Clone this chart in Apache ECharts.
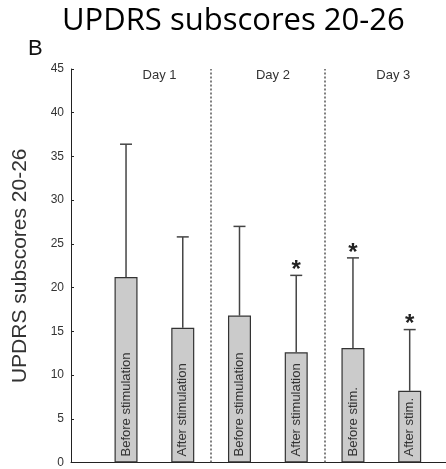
<!DOCTYPE html>
<html>
<head>
<meta charset="utf-8">
<script src="https://cdn.jsdelivr.net/npm/echarts@6/dist/echarts.min.js"></script>
<style>
  html, body { margin: 0; padding: 0; background: #fff; }
  #chart { width: 446px; height: 469px; }
</style>
</head>
<body>
<div id="chart"></div>
<script>
// UPDRS subscores 20-26, mean + SD per session
const sessions = ['Before stimulation', 'After stimulation', 'Before stimulation', 'After stimulation', 'Before stim.', 'After stim.'];
const slots = [1, 2, 3, 4, 5, 6];
const means = [21.2, 15.4, 16.8, 12.6, 13.1, 8.2];
const sds = [15.2, 10.4, 10.2, 8.8, 10.3, 7.0];
const significant = [false, false, false, true, true, true];
const days = ['Day 1', 'Day 2', 'Day 3'];
const dayCenters = [1.59, 3.59, 5.71];
const dayDividers = [2.5, 4.5];
const yTicks = { min: 0, max: 45, step: 5 };

const FONT = '"Liberation Sans", Arial, sans-serif';
const chart = echarts.init(document.getElementById('chart'));

const barData = slots.map((s, i) => [s, means[i]]);
const errData = slots.map((s, i) => [s, means[i], sds[i], significant[i] ? 1 : 0]);
const dayData = dayCenters.map(x => [x, 44.3]);

chart.setOption({
  animation: false,
  textStyle: { fontFamily: FONT },
  title: {
    text: 'UPDRS subscores 20-26',
    left: 57,
    top: 1,
    textStyle: { fontFamily: '"Open Sans", sans-serif', fontSize: 31, fontWeight: 'normal', color: '#000' }
  },
  graphic: [{
    type: 'text', left: 28, top: 38,
    style: { text: 'B', fontSize: 22, fontFamily: FONT, fill: '#111' }
  }],
  grid: { left: 71, right: 0, top: 69, bottom: 6.5 },
  xAxis: {
    type: 'value', min: 0.03, max: 6.64,
    axisLine: { show: true, onZero: false, lineStyle: { color: '#222', width: 1 } },
    axisTick: { show: false }, axisLabel: { show: false }, splitLine: { show: false }
  },
  yAxis: {
    type: 'value', min: yTicks.min, max: yTicks.max, interval: yTicks.step,
    name: 'UPDRS subscores 20-26', nameLocation: 'middle', nameGap: 40,
    nameTextStyle: { fontSize: 21, color: '#333', fontFamily: FONT },
    axisLine: { show: true, onZero: false, lineStyle: { color: '#222', width: 1 } },
    axisTick: { show: true, inside: true, length: 3, lineStyle: { color: '#222' } },
    axisLabel: { fontSize: 12, color: '#333', margin: 7 },
    splitLine: { show: false }
  },
  series: [
    {
      type: 'bar',
      data: barData,
      barWidth: 23,
      itemStyle: { color: '#cbcbcb', borderColor: '#333', borderWidth: 1.2 },
      label: {
        show: true, position: 'insideBottom', rotate: 90,
        align: 'left', verticalAlign: 'middle', distance: 6,
        fontSize: 13, color: '#333',
        formatter: p => sessions[p.dataIndex]
      },
      markLine: {
        silent: true, symbol: 'none', label: { show: false },
        lineStyle: { type: [2, 2], color: '#555', width: 1.5 },
        data: dayDividers.map(x => ({ xAxis: x }))
      }
    },
    {
      type: 'custom',
      data: errData,
      renderItem: (params, api) => {
        const x = api.value(0), m = api.value(1), sd = api.value(2), sig = api.value(3);
        const base = api.coord([x, m]);
        const top = api.coord([x, m + sd]);
        const half = 6;
        const style = { stroke: '#444', lineWidth: 1.5 };
        const children = [
          { type: 'line', shape: { x1: top[0], y1: base[1], x2: top[0], y2: top[1] }, style },
          { type: 'line', shape: { x1: top[0] - half, y1: top[1], x2: top[0] + half, y2: top[1] }, style }
        ];
        if (sig) {
          children.push({
            type: 'text', x: top[0], y: top[1] - 5,
            style: { text: '*', fontSize: 24, fontWeight: 'bold', fontFamily: FONT, fill: '#222', align: 'center', verticalAlign: 'middle' }
          });
        }
        return { type: 'group', children };
      }
    },
    {
      type: 'custom',
      data: dayData,
      renderItem: (params, api) => {
        const pt = api.coord([api.value(0), api.value(1)]);
        return {
          type: 'text', x: pt[0], y: pt[1],
          style: { text: days[params.dataIndex], fontSize: 13, fontFamily: FONT, fill: '#333', align: 'center', verticalAlign: 'middle' }
        };
      }
    }
  ]
});
</script>
</body>
</html>
